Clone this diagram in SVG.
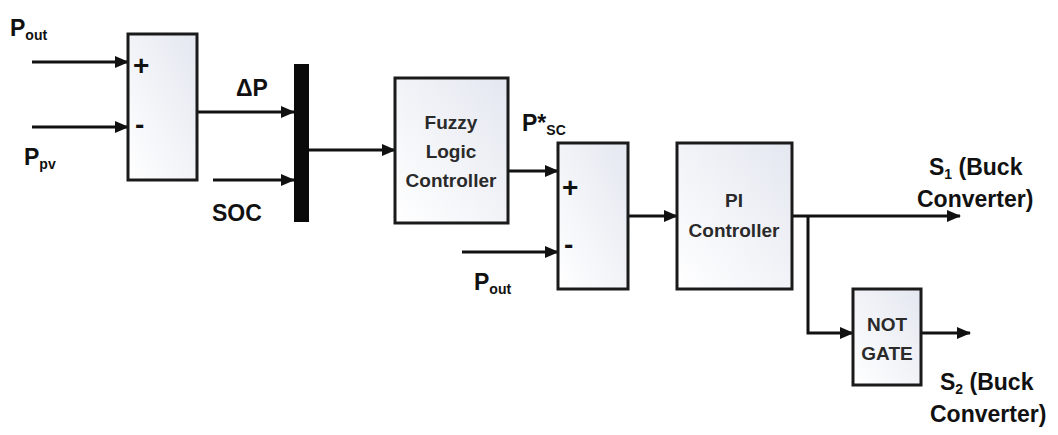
<svg xmlns="http://www.w3.org/2000/svg" width="1058" height="435" viewBox="0 0 1058 435">
<defs>
<linearGradient id="g" x1="0" y1="1" x2="1" y2="0">
<stop offset="0" stop-color="#ffffff"/>
<stop offset="1" stop-color="#e4e7f0"/>
</linearGradient>
<marker id="ah" markerWidth="14" markerHeight="12" refX="13" refY="6" orient="auto" markerUnits="userSpaceOnUse">
<path d="M0,0 L14,6 L0,12 Z" fill="#111"/>
</marker>
<style>
.blk{fill:url(#g);stroke:#1a1a1a;stroke-width:3}
.ln{fill:none;stroke:#111;stroke-width:3}
.ar{fill:none;stroke:#111;stroke-width:3;marker-end:url(#ah)}
.lb{font-family:"Liberation Sans",Arial,sans-serif;font-weight:bold;font-size:23px;fill:#111}
.sub{font-size:14px}
.bt{font-family:"Liberation Sans",Arial,sans-serif;font-weight:bold;font-size:19px;fill:#2a2a2a;text-anchor:middle}
.sg{font-family:"Liberation Sans",Arial,sans-serif;font-weight:bold;font-size:28px;fill:#111}
</style>
</defs>
<rect width="1058" height="435" fill="#fff"/>
<g id="connectors">
<path class="ar" d="M32,62 H128"/>
<path class="ar" d="M32,127 H128"/>
<path class="ar" d="M197,112 H294"/>
<path class="ar" d="M213,180 H294"/>
<path class="ar" d="M309,150 H395"/>
<path class="ar" d="M508,171 H558"/>
<path class="ar" d="M462,252 H558"/>
<path class="ar" d="M628,216 H677"/>
<path class="ar" d="M792,216 H960"/>
<path class="ar" d="M808,216 V333 H853"/>
<path class="ar" d="M921,333 H970"/>
</g>
<g id="labels">
<text class="lb" x="10" y="36">P<tspan class="sub" dy="4">out</tspan></text>
<text class="lb" x="24" y="165">P<tspan class="sub" dy="4">pv</tspan></text>
<text class="lb" x="236" y="96">ΔP</text>
<text class="lb" x="212" y="221">SOC</text>
<text class="lb" x="522" y="131">P*<tspan class="sub" dy="4">SC</tspan></text>
<text class="lb" x="474" y="290">P<tspan class="sub" dy="4">out</tspan></text>
<text class="lb" x="929" y="175">S<tspan class="sub" dy="4">1</tspan><tspan dy="-4"> (Buck</tspan></text>
<text class="lb" x="917" y="207">Converter)</text>
<text class="lb" x="940" y="390">S<tspan class="sub" dy="4">2</tspan><tspan dy="-4"> (Buck</tspan></text>
<text class="lb" x="930" y="422">Converter)</text>
</g>
<g id="sum1">
<rect class="blk" x="128" y="34" width="69" height="146"/>
<text class="sg" x="133" y="75">+</text>
<text class="sg" x="135" y="134">-</text>
</g>
<g id="mux">
<rect x="294" y="64" width="15" height="158" fill="#0a0a0a"/>
</g>
<g id="fuzzy">
<rect class="blk" x="395" y="78" width="113" height="145"/>
<text class="bt" x="451" y="129">Fuzzy</text>
<text class="bt" x="451" y="158">Logic</text>
<text class="bt" x="451" y="187">Controller</text>
</g>
<g id="sum2">
<rect class="blk" x="558" y="143" width="70" height="146"/>
<text class="sg" x="562" y="197">+</text>
<text class="sg" x="564" y="254">-</text>
</g>
<g id="pi">
<rect class="blk" x="677" y="143" width="115" height="146"/>
<text class="bt" x="734" y="207">PI</text>
<text class="bt" x="734" y="237">Controller</text>
</g>
<g id="notgate">
<rect class="blk" x="853" y="289" width="68" height="96"/>
<text class="bt" x="887" y="331">NOT</text>
<text class="bt" x="887" y="360">GATE</text>
</g>
</svg>
